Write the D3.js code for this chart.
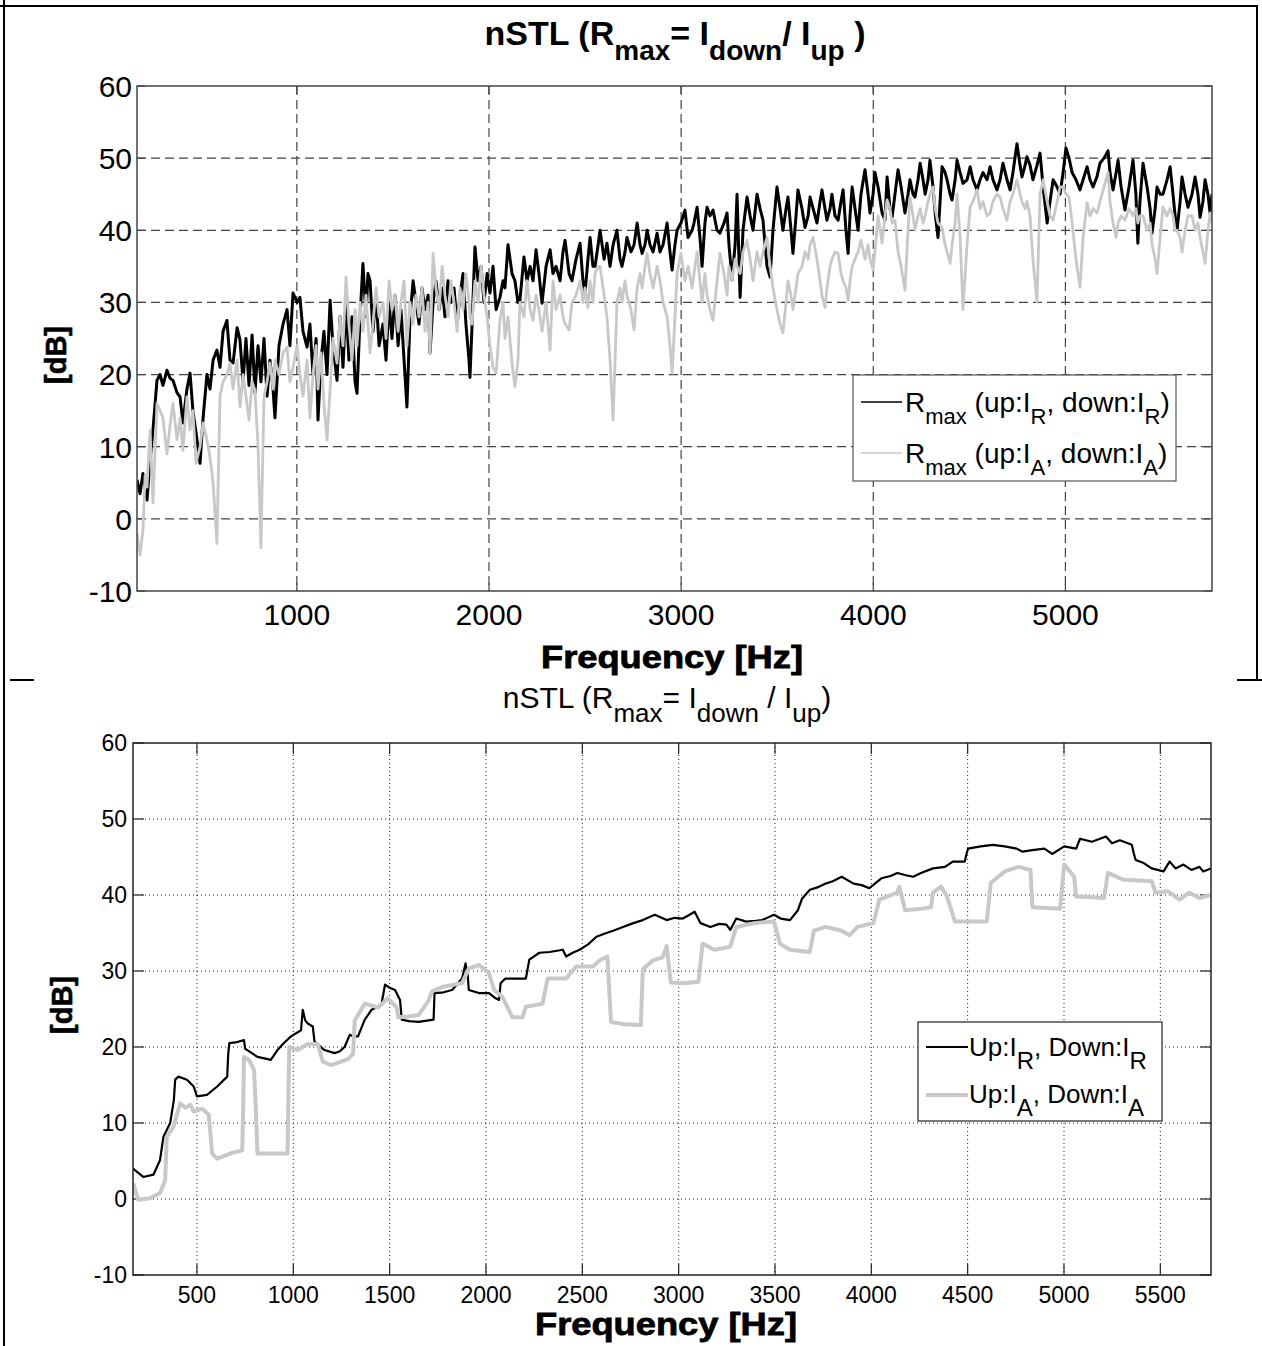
<!DOCTYPE html>
<html><head><meta charset="utf-8">
<script src="https://cdn.jsdelivr.net/npm/d3@7"></script>
<style>body{margin:0;background:#fff}svg{display:block}text{font-family:Arial,"Liberation Sans",Helvetica,sans-serif}</style>
</head><body><svg id="c" width="1262" height="1346"></svg>
<script>
// ---------------- DATA ----------------
const topFreq = [168,184,199,210,220,236,251,272,288,303,324,340,355,376,392,407,428,444,459,475,496,512,532,548,564,584,600,616,636,652,668,689,704,720,735,751,767,782,798,813,829,845,860,876,886,907,928,949,964,980,1001,1016,1032,1053,1068,1084,1100,1110,1126,1141,1157,1173,1188,1209,1225,1240,1256,1271,1287,1303,1313,1329,1344,1360,1370,1381,1396,1412,1428,1448,1464,1480,1495,1511,1527,1542,1558,1573,1589,1605,1620,1636,1651,1667,1683,1693,1709,1724,1740,1756,1771,1787,1802,1818,1834,1849,1865,1880,1896,1901,1912,1927,1943,1959,1974,1990,2005,2021,2037,2057,2073,2083,2099,2120,2135,2151,2161,2182,2198,2214,2229,2245,2260,2276,2297,2318,2333,2349,2370,2385,2396,2417,2432,2453,2474,2489,2500,2515,2526,2541,2552,2568,2578,2599,2614,2630,2646,2666,2682,2692,2708,2718,2739,2755,2771,2786,2797,2812,2823,2838,2854,2875,2890,2906,2927,2942,2953,2968,2979,2999,3020,3036,3057,3067,3083,3098,3109,3124,3135,3150,3166,3187,3202,3223,3239,3249,3265,3281,3291,3307,3322,3343,3359,3374,3395,3411,3426,3437,3447,3463,3478,3499,3515,3530,3546,3556,3572,3582,3598,3608,3629,3645,3661,3671,3687,3707,3723,3733,3749,3759,3775,3785,3801,3817,3832,3843,3858,3869,3879,3890,3905,3921,3936,3957,3973,3983,3999,4009,4025,4046,4061,4072,4087,4098,4113,4129,4145,4165,4181,4191,4207,4217,4233,4244,4259,4270,4285,4295,4311,4322,4337,4358,4374,4384,4400,4410,4426,4436,4452,4467,4488,4504,4519,4540,4556,4571,4592,4608,4623,4644,4660,4675,4696,4712,4727,4748,4764,4774,4790,4800,4816,4831,4852,4868,4884,4905,4920,4936,4957,4972,4988,5003,5019,5035,5055,5076,5092,5113,5128,5144,5165,5180,5201,5222,5232,5248,5264,5274,5290,5310,5331,5352,5367,5377,5388,5404,5425,5441,5451,5467,5477,5493,5508,5529,5545,5560,5571,5581,5597,5607,5623,5638,5659,5675,5690,5701,5716,5727,5742,5753,5763];
const topR = [5.4,3.5,6.3,4.5,2.6,8,12.3,19.2,20,18.5,20.6,19.5,19.2,17.5,16.9,13.3,18,20.2,15,12,7.7,14,20,18,22,23.4,21,26,27.5,22,21.6,26.5,24.8,19,25,18.5,25.5,17.5,24,19,25,17,22,18,14,24,27,29,24,31.3,30,30.7,26,23.8,27,20,25,13.7,22,26,20,30.3,24,19.2,28,21,30,22,28,19,17.4,28,35.4,28,34,33,26,31,24,27,22,30,25,31,24,29,22,15.5,28,33,30,27,32,29,31,23,30,33,29,32,28,33,30,32,27,31,34,27,22,19.6,27,37.7,33,35,30,34,31.3,35,29,30.7,33,32,38,34,33,30,30.3,36.3,33,35,33,37.3,34,29.9,35,37.3,34,35,33,37,38.6,34,33,36,38.2,33,31.3,36,39,35,35,38,40,36,38.2,35,38,40,36,35,37,39,37,38,41,38,36.8,38,40,38,37,39.6,37,38,41,37,34.5,38,40,41,42.8,39,40,41,43.2,39,35,41,43.2,42,42.8,40,39.6,41,42.4,38,33.1,38,45,30.7,40,44.6,42,40,45,43,41.4,38,35,33.5,40,46,43,40,43,44.6,40,36.8,42,45.6,43,40.4,42,44.6,43,41,44,45.6,43,41.4,43,45,42,41.4,44,45.6,40,36.8,42,46,43,40,45,48.4,45,42.4,45,48,46,42.4,41.4,47.4,43,41.8,45,48.4,46,42.4,45,47,45,44.6,47,49.3,47,45,47,49.7,46,42.4,39,48.8,48,47,45,44.2,47,49.7,48,46.5,47,48.8,47,45.6,47,48,47,48.8,47,45.6,47,49.3,47,45.6,48,52,49,47.4,49,50.2,49,47,49,50.7,46,41,44,47,46,45,48,51.4,50,48,47,45.6,47,48.8,47,46,47.5,49.3,50,51,48,45.6,48,49.7,46,42.8,46,49.7,45,38.2,44,49.3,46,43,39.6,43,46,45,45,47,48.8,45,42,40,44,47.4,45,43.2,45,47.4,45,41.8,44,47,45,42.4,45];
const topA = [-2,-5,-1.6,6,4.4,12.3,2.2,16,15,14,9,13,16,11,14,9.5,16.9,12.3,15,7.7,10,13.3,11,8.5,5,-3.4,17,19,20,21.6,18,22,15.5,20,17,13.7,19,17.8,10,-4,17,19,21.6,18,22,20,23,23.8,19,21,24,20,17,22,14,20,24,18,23,16,10.9,18,25,21.6,28,24,33.5,27,22,29,24,30,26,31,27,23,27,32,28,30,25,33,29,31,26,30,33,24,30,27,31,28,32,26,30,23,36.8,32,29,35,31,28,33,30,26,32,29,34,30,28,27,33,30,35,31,28,24,21,20.2,27.5,30,25,28,21.6,18.3,22,30,28,33,29,27.5,31,29,26,30,23.4,33,29,31,28,27,26.2,30,31,33,30,32,29.3,33,30,34,35,35,31,28,22,13.7,30,32,30,33,31,29,26.2,32,34,32,35,36.8,34,32,35,33,30,28,24,20.2,28,34,36.8,33,35,32,34,37,33,30,34,31,29,27.5,33,36.8,34,31,35,33,36,35,34,37,38.6,36,33,37,35,37,38,39,35,32,29,27,25.8,30,33,31,29,32,34,35,37,36,38,39,36,33,31,29.3,32,35,36,37,36.8,34,33,32,30.3,33,35,36,37,38.6,36,38,36,34.5,37,42,38.2,42,44.2,43,41,41.4,37,35,31.7,40,44.6,42,40,42,43,41,42,44,45,46,43,41,40.4,38,37,35.4,38,41,45,39,29,38,43.2,44,45.6,43,44,42,42.4,44,45,44.6,43,41.4,44,45,47,45,44,43,44,42,36,30,45,47,44,42,41.4,44,46,46,45,44.6,41,36,32.1,39,43.8,42,43,42.4,44,46,48,44,41,39,41,42,41.4,43,42,43,41,42,42,40,41,38,36,34,39,43.2,42,43,42,40,40,39,37,40,42,42,40,41,39,37,35.4,40,42.4,41];

const botFreqR = [168,221,274,308,326,361,380,387,404,448,483,500,552,605,657,662,668,700,744,750,761,814,850,883,918,950,988,1040,1049,1062,1075,1101,1110,1162,1214,1240,1266,1293,1310,1336,1345,1371,1406,1440,1458,1476,1500,1528,1554,1563,1600,1650,1728,1733,1780,1824,1876,1894,1905,1911,1963,2016,2050,2068,2076,2100,2120,2207,2225,2277,2330,2399,2416,2450,2486,2530,2573,2625,2660,2711,2765,2814,2876,2938,2980,3021,3050,3083,3113,3165,3210,3248,3268,3299,3351,3400,3433,3495,3530,3578,3619,3640,3681,3720,3763,3800,3846,3908,3950,3990,4052,4100,4135,4180,4217,4258,4320,4382,4423,4485,4495,4502,4568,4630,4692,4754,4785,4836,4898,4939,5001,5063,5083,5145,5218,5249,5290,5352,5362,5372,5414,5455,5517,5548,5579,5620,5661,5703,5723,5763];
const botR = [4.0,2.9,3.2,5.1,8.2,10.0,13,15.7,16.1,15.7,14.8,13.5,13.7,14.8,16.1,19,20.5,20.6,20.9,19.8,19.6,18.7,18.5,18.3,19.6,20.5,21.4,22.2,24.9,23.5,23.1,22.7,20.7,19.6,19.2,19.4,20.0,21.6,21.4,21.4,22,23.6,24.9,25.3,25.7,28.2,27.8,27.5,26.2,23.6,23.4,23.3,23.6,27.1,27.2,27.5,29.0,31.0,29.5,27.5,27.1,27.1,26.4,26.2,28.4,29,29.0,29.0,31.5,32.4,32.5,32.8,31.9,32.4,32.8,33.5,34.5,35.0,35.3,35.8,36.3,36.7,37.4,36.7,37.0,36.9,37.3,37.8,36.3,35.8,36.2,36.1,35.4,36.9,36.5,36.6,36.7,37.4,36.9,36.7,38.0,39.5,40.7,41.0,41.5,41.8,42.4,41.5,41.3,40.9,42.2,42.5,42.9,42.6,42.4,42.9,43.5,43.7,44.4,44.4,45.5,46.1,46.4,46.6,46.4,46.1,45.7,45.9,46.1,45.4,46.4,46.1,47.4,47.0,47.7,46.8,47.2,46.6,45.5,44.6,44.2,43.5,43.1,44.4,43.5,44.0,43.3,43.7,43.1,43.5];
const botFreqA = [168,195,256,308,335,343,378,413,440,465,483,526,561,572,578,605,674,735,740,744,770,796,805,814,900,970,975,979,1023,1075,1127,1153,1197,1240,1284,1310,1319,1371,1441,1490,1537,1545,1600,1650,1702,1719,1772,1876,1911,1963,2016,2042,2085,2137,2190,2207,2294,2320,2416,2469,2556,2590,2630,2649,2720,2804,2814,2866,2917,2938,2959,3021,3103,3124,3186,3268,3299,3392,3495,3526,3578,3681,3702,3763,3846,3887,3928,4011,4042,4135,4145,4176,4258,4310,4320,4362,4393,4434,4599,4620,4692,4764,4826,4836,4980,5001,5053,5063,5208,5228,5310,5455,5476,5538,5600,5651,5703,5763];
const botA = [2.1,-0.1,0.1,0.75,2.5,8.2,9.5,12.6,12.0,12.4,11.5,11.9,11.1,8,6.0,5.3,6.0,6.4,12,18.7,18.3,17.0,12,6.0,6.0,6.0,14,20.0,19.6,20.4,20.4,18.1,17.6,18,18.4,19.1,23.5,25.7,25.2,26.4,25.2,23.9,24,24.2,26.1,27.3,27.9,28.4,30.3,30.8,29.7,27.5,26.6,23.9,23.9,25.3,25.7,29.0,29.0,30.6,30.6,31.4,31.9,23.3,23.0,22.9,30.2,31.4,31.8,33.3,28.5,28.4,28.6,33.6,32.8,33.2,35.8,36.3,36.5,33.6,32.8,32.5,35.3,35.8,35.3,34.7,35.8,36.3,39.4,40.3,41.1,38.0,38.2,38.4,40.3,41.1,39.8,36.5,36.5,41.6,43.1,43.7,43.3,38.4,38.2,44.0,42.4,39.8,39.6,42.9,42.0,41.8,40.3,40.5,39.4,40.3,39.6,40.0];

const topXTicks = [1000,2000,3000,4000,5000];
const botXTicks = [500,1000,1500,2000,2500,3000,3500,4000,4500,5000,5500];
const yTicks = [-10,0,10,20,30,40,50,60];
const xDomain = [168,5763];
const yDomain = [-10,60];
const seriesColors = ["#000000","#c8c8c8"];

// ---------------- DRAW ----------------
const svg = d3.select("#c");
svg.append("rect").attr("width",1262).attr("height",1346).attr("fill","#fff");

// outer frame fragments
const fr = svg.append("g").attr("stroke","#000").attr("stroke-width",2);
fr.append("line").attr("x1",4).attr("x2",4).attr("y1",0).attr("y2",1346);
fr.append("line").attr("x1",0).attr("x2",1258).attr("y1",6).attr("y2",6);
fr.append("line").attr("x1",1257).attr("x2",1257).attr("y1",6).attr("y2",680);
fr.append("line").attr("x1",10).attr("x2",34).attr("y1",680).attr("y2",680);
fr.append("line").attr("x1",1237).attr("x2",1262).attr("y1",680).attr("y2",680);

function addSubText(g, x, y, parts, size, subSize, weight, anchor){
  const t = g.append("text").attr("x",x).attr("y",y).attr("font-size",size)
    .attr("font-weight",weight).attr("text-anchor",anchor||"start").attr("fill","#000");
  let cur = 0;
  parts.forEach(p=>{
    const sub = p[1];
    const target = sub ? subSize*0.55 : 0;
    const dy = target - cur; cur = target;
    t.append("tspan").attr("dy",dy).attr("font-size", sub?subSize:size).text(p[0]);
  });
  return t;
}

function panel(cfg){
  const x = d3.scaleLinear().domain(xDomain).range([cfg.left,cfg.right]);
  const y = d3.scaleLinear().domain(yDomain).range([cfg.bottom,cfg.top]);
  const g = svg.append("g");
  g.append("rect").attr("x",cfg.left).attr("y",cfg.top).attr("width",cfg.right-cfg.left)
    .attr("height",cfg.bottom-cfg.top).attr("fill","#fff");
  const grid = g.append("g").attr("stroke",cfg.gridColor).attr("stroke-width",cfg.gridWidth)
    .attr("stroke-dasharray",cfg.dash).attr("fill","none");
  cfg.xTicks.forEach(v=>grid.append("line").attr("x1",x(v)).attr("x2",x(v)).attr("y1",cfg.top).attr("y2",cfg.bottom));
  yTicks.slice(1,-1).forEach(v=>grid.append("line").attr("x1",cfg.left).attr("x2",cfg.right).attr("y1",y(v)).attr("y2",y(v)));
  const tk = g.append("g").attr("stroke",cfg.frameColor).attr("stroke-width",1.2);
  cfg.xTicks.forEach(v=>{
    tk.append("line").attr("x1",x(v)).attr("x2",x(v)).attr("y1",cfg.bottom).attr("y2",cfg.bottom-cfg.tickLen);
    tk.append("line").attr("x1",x(v)).attr("x2",x(v)).attr("y1",cfg.top).attr("y2",cfg.top+cfg.tickLen);
  });
  yTicks.forEach(v=>{
    tk.append("line").attr("x1",cfg.left).attr("x2",cfg.left+cfg.tickLen).attr("y1",y(v)).attr("y2",y(v));
    tk.append("line").attr("x1",cfg.right).attr("x2",cfg.right-cfg.tickLen).attr("y1",y(v)).attr("y2",y(v));
  });
  const clipId = "clip"+cfg.id;
  svg.append("clipPath").attr("id",clipId).append("rect").attr("x",cfg.left).attr("y",cfg.top)
    .attr("width",cfg.right-cfg.left).attr("height",cfg.bottom-cfg.top);
  const dg = g.append("g").attr("clip-path",`url(#${clipId})`);
  cfg.series.forEach((s,i)=>{
    const pts = s.freq.map((f,k)=>[f,s.vals[k]]);
    dg.append("path").attr("d",d3.line().x(d=>x(d[0])).y(d=>y(d[1]))(pts))
      .attr("fill","none").attr("stroke",seriesColors[i]).attr("stroke-width",s.width)
      .attr("stroke-linejoin","round");
  });
  g.append("rect").attr("x",cfg.left).attr("y",cfg.top).attr("width",cfg.right-cfg.left)
    .attr("height",cfg.bottom-cfg.top).attr("fill","none").attr("stroke",cfg.frameColor).attr("stroke-width",cfg.frameWidth);
  cfg.xTicks.forEach(v=>g.append("text").attr("x",x(v)).attr("y",cfg.xLabelY).attr("text-anchor","middle")
    .attr("font-size",cfg.tickSize).text(v));
  yTicks.forEach(v=>g.append("text").attr("x",cfg.left-cfg.yLabelGap).attr("y",y(v)).attr("dy","0.36em")
    .attr("text-anchor","end").attr("font-size",cfg.tickSize).text(v));
  return {x,y,g};
}

// ---------- TOP PANEL ----------
const P1 = panel({id:1,left:137,right:1212,top:86,bottom:591,xTicks:topXTicks,
  gridColor:"#444",gridWidth:1.2,dash:"9,5",frameColor:"#444",frameWidth:1.5,tickLen:8,
  tickSize:30,xLabelY:625,yLabelGap:5,
  series:[{freq:topFreq,vals:topR,width:3},{freq:topFreq,vals:topA,width:2.8}]});
addSubText(svg,675,45,[["nSTL (R",0],["max",1],["= I",0],["down",1],["/ I",0],["up",1],[" )",0]],34,28,"bold","middle");
svg.append("text").attr("x",672).attr("y",668).attr("text-anchor","middle").attr("font-size",31)
  .attr("font-weight","bold").attr("textLength",262).attr("lengthAdjust","spacingAndGlyphs").attr("stroke","#000").attr("stroke-width",0.8).text("Frequency [Hz]");
svg.append("text").attr("transform","translate(66,355) rotate(-90)").attr("text-anchor","middle")
  .attr("font-size",29).attr("font-weight","bold").attr("stroke","#000").attr("stroke-width",0.6).text("[dB]");
const L1 = svg.append("g");
L1.append("rect").attr("x",853).attr("y",375).attr("width",323).attr("height",106).attr("fill","#fff").attr("stroke","#555").attr("stroke-width",1.2);
[402,453].forEach((yy,i)=>{
  L1.append("line").attr("x1",861).attr("x2",902).attr("y1",yy).attr("y2",yy).attr("stroke",seriesColors[i]).attr("stroke-width",1.5);
});
addSubText(L1,905,412,[["R",0],["max",1],[" (up:I",0],["R",1],[", down:I",0],["R",1],[")",0]],28,22,"normal","start");
addSubText(L1,905,463,[["R",0],["max",1],[" (up:I",0],["A",1],[", down:I",0],["A",1],[")",0]],28,22,"normal","start");

// ---------- BOTTOM PANEL ----------
const P2 = panel({id:2,left:133,right:1211,top:743,bottom:1275,xTicks:botXTicks,
  gridColor:"#222",gridWidth:1,dash:"1,3",frameColor:"#222",frameWidth:1.5,tickLen:11,
  tickSize:23,xLabelY:1303,yLabelGap:6,
  series:[{freq:botFreqR,vals:botR,width:2.2},{freq:botFreqA,vals:botA,width:4}]});
addSubText(svg,667,708,[["nSTL (R",0],["max",1],["= I",0],["down",1],[" / I",0],["up",1],[")",0]],30,26,"normal","middle");
svg.append("text").attr("x",666).attr("y",1335).attr("text-anchor","middle").attr("font-size",32)
  .attr("font-weight","bold").attr("textLength",262).attr("lengthAdjust","spacingAndGlyphs").attr("stroke","#000").attr("stroke-width",0.8).text("Frequency [Hz]");
svg.append("text").attr("transform","translate(72,1005) rotate(-90)").attr("text-anchor","middle")
  .attr("font-size",29).attr("font-weight","bold").attr("stroke","#000").attr("stroke-width",0.6).text("[dB]");
const L2 = svg.append("g");
L2.append("rect").attr("x",918).attr("y",1022).attr("width",244).attr("height",99).attr("fill","#fff").attr("stroke","#222").attr("stroke-width",1.2);
[[1047,2],[1095,4]].forEach((d,i)=>{
  L2.append("line").attr("x1",926).attr("x2",968).attr("y1",d[0]).attr("y2",d[0]).attr("stroke",seriesColors[i]).attr("stroke-width",d[1]);
});
addSubText(L2,969,1056,[["Up:I",0],["R",1],[", Down:I",0],["R",1]],26,24,"normal","start");
addSubText(L2,969,1103,[["Up:I",0],["A",1],[", Down:I",0],["A",1]],26,24,"normal","start");
</script></body></html>
